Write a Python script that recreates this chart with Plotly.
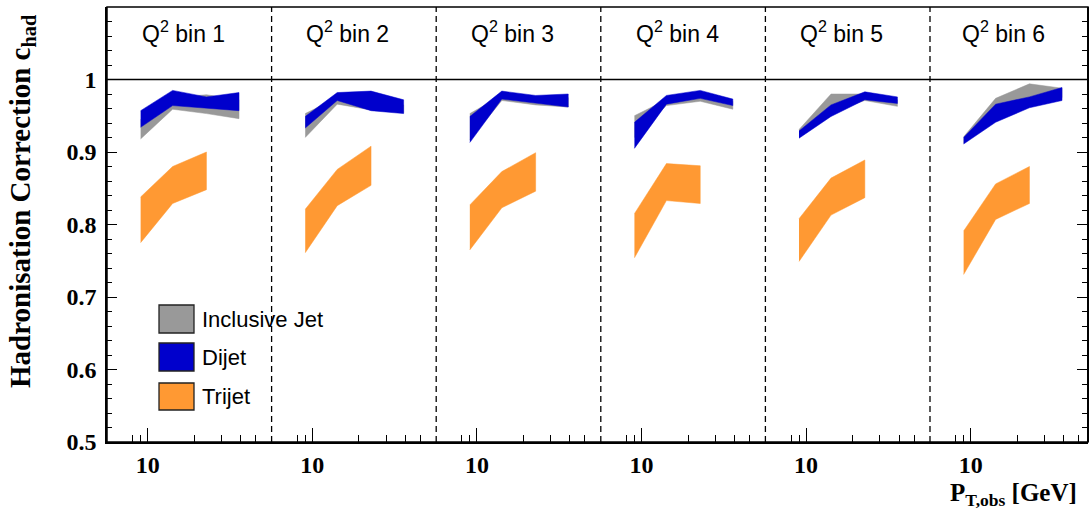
import plotly.graph_objects as go

# ---------------- data ----------------
pt_points = [9.0, 14.5, 24.0, 39.0]          # P_T,obs bin centres [GeV]
pt_points_trijet = [9.0, 14.5, 24.0]
panel_labels = ["Q<sup>2</sup> bin 1", "Q<sup>2</sup> bin 2", "Q<sup>2</sup> bin 3",
                "Q<sup>2</sup> bin 4", "Q<sup>2</sup> bin 5", "Q<sup>2</sup> bin 6"]

incl_lo = [[0.918, 0.959, 0.953, 0.946],
           [0.920, 0.966, 0.958, 0.954],
           [0.917, 0.971, 0.965, 0.962],
           [0.920, 0.964, 0.970, 0.959],
           [0.920, 0.955, 0.971, 0.963],
           [0.912, 0.945, 0.965, 0.975]]
incl_hi = [[0.945, 0.975, 0.979, 0.972],
           [0.953, 0.975, 0.975, 0.965],
           [0.953, 0.978, 0.975, 0.975],
           [0.950, 0.972, 0.978, 0.970],
           [0.931, 0.980, 0.980, 0.972],
           [0.921, 0.974, 0.994, 0.988]]

dijet_lo = [[0.934, 0.964, 0.960, 0.957],
            [0.933, 0.971, 0.957, 0.953],
            [0.913, 0.973, 0.967, 0.962],
            [0.905, 0.966, 0.974, 0.964],
            [0.919, 0.949, 0.972, 0.967],
            [0.911, 0.941, 0.961, 0.971]]
dijet_hi = [[0.957, 0.985, 0.976, 0.982],
            [0.949, 0.982, 0.984, 0.972],
            [0.949, 0.984, 0.978, 0.980],
            [0.941, 0.978, 0.985, 0.973],
            [0.929, 0.965, 0.983, 0.976],
            [0.920, 0.966, 0.976, 0.989]]

trijet_lo = [[0.775, 0.829, 0.848],
             [0.761, 0.826, 0.854],
             [0.765, 0.823, 0.846],
             [0.754, 0.833, 0.829],
             [0.749, 0.813, 0.837],
             [0.731, 0.807, 0.829]]
trijet_hi = [[0.838, 0.880, 0.900],
             [0.821, 0.876, 0.908],
             [0.827, 0.873, 0.899],
             [0.815, 0.884, 0.881],
             [0.808, 0.864, 0.889],
             [0.791, 0.856, 0.880]]

y_tickvals = [0.5, 0.6, 0.7, 0.8, 0.9, 1.0, 1.1]
y_ticktext = ["0.5", "0.6", "0.7", "0.8", "0.9", "1", "1.1"]

# ---------------- style ----------------
C_GRAY = "#999999"
C_BLUE = "#0000CC"
C_ORANGE = "#FF9933"
SERIF = "Liberation Serif, Times New Roman, serif"
SANS = "Liberation Sans, Arial, sans-serif"

W, H = 1091, 517
ML, MR, MT, MB = 107, 3, 7, 75
PW = W - ML - MR
PH = H - MT - MB
panel_w = 164.6
px_per_decade = 154.5
left_log = 1 - 40.7 / px_per_decade

starts = [ML + panel_w * i for i in range(6)]
ends = [ML + panel_w * (i + 1) for i in range(5)] + [ML + PW]

fig = go.Figure()

series = [
    ("Inclusive Jet", C_GRAY, pt_points, incl_lo, incl_hi),
    ("Dijet", C_BLUE, pt_points, dijet_lo, dijet_hi),
    ("Trijet", C_ORANGE, pt_points_trijet, trijet_lo, trijet_hi),
]

for i in range(6):
    sfx = "" if i == 0 else str(i + 1)
    for name, col, xs, lo, hi in series:
        fig.add_trace(go.Scatter(
            x=list(xs) + list(xs)[::-1],
            y=list(hi[i]) + list(lo[i])[::-1],
            fill="toself", fillcolor=col, mode="lines",
            line=dict(width=0.5, color=col),
            xaxis="x" + sfx, yaxis="y",
            showlegend=False, hoverinfo="skip", name=name))

    d0 = (starts[i] - ML) / PW
    d1 = (ends[i] - ML) / PW
    rng = [left_log, left_log + (ends[i] - starts[i]) / px_per_decade]
    fig.update_layout(**{
        "xaxis" + sfx: dict(
            type="log", range=rng, domain=[d0, d1], anchor="y",
            showgrid=False, zeroline=False,
            showline=True, linecolor="black", linewidth=1.5,
            tickmode="array", tickvals=[10], ticktext=["10"],
            ticks="inside", ticklen=14, tickwidth=1.3, tickcolor="black",
            ticklabelstandoff=0,
            tickfont=dict(family=SERIF, size=24, color="black", weight="bold"),
            minor=dict(tickmode="array", tickvals=[8, 9, 20, 30, 40, 50],
                       ticks="inside", ticklen=7, tickwidth=1.3, tickcolor="black",
                       showgrid=False),
        )
    })

fig.update_layout(
    width=W, height=H,
    margin=dict(l=ML, r=MR, t=MT, b=MB),
    plot_bgcolor="white", paper_bgcolor="white",
    showlegend=False,
    yaxis=dict(
        range=[0.5, 1.1], domain=[0, 1], anchor="x",
        showgrid=False, zeroline=False,
        showline=True, linecolor="black", linewidth=1.5,
        tickmode="array", tickvals=y_tickvals, ticktext=y_ticktext,
        ticks="inside", ticklen=10, tickwidth=1.3, tickcolor="black",
        ticklabelstandoff=4,
        tickfont=dict(family=SERIF, size=24, color="black", weight="bold"),
        minor=dict(dtick=0.02, tick0=0.5, ticks="inside", ticklen=5,
                   tickwidth=1.3, tickcolor="black", showgrid=False),
    ),
    yaxis2=dict(
        range=[0.5, 1.1], overlaying="y", side="right", anchor="free", position=1.0,
        showgrid=False, zeroline=False, showticklabels=False,
        showline=True, linecolor="black", linewidth=1.5,
        tickmode="array", tickvals=y_tickvals,
        ticks="inside", ticklen=10, tickwidth=1.3, tickcolor="black",
        minor=dict(dtick=0.02, tick0=0.5, ticks="inside", ticklen=5,
                   tickwidth=1.3, tickcolor="black", showgrid=False),
    ),
)

# invisible trace to activate the right-hand frame axis
fig.add_trace(go.Scatter(x=[10], y=[0.4], xaxis="x6", yaxis="y2", mode="markers",
                         marker=dict(opacity=0), showlegend=False, hoverinfo="skip"))

shapes = []
shapes.append(dict(type="rect", xref="paper", yref="paper", x0=0, x1=1, y0=0, y1=1,
                   line=dict(color="black", width=1.5), fillcolor="rgba(0,0,0,0)"))
shapes.append(dict(type="line", xref="paper", yref="y", x0=0, x1=1, y0=1.0, y1=1.0,
                   line=dict(color="black", width=1.5)))
for i in range(1, 6):
    xp = (starts[i] - ML) / PW
    shapes.append(dict(type="line", xref="paper", yref="paper", x0=xp, x1=xp, y0=0, y1=1,
                       line=dict(color="black", width=1.3, dash="6px,4px")))

annotations = []
for i in range(6):
    cx = ((starts[i] + ends[i]) / 2 - 6 - ML) / PW
    annotations.append(dict(xref="paper", yref="paper", x=cx, y=(H - MB - 32) / PH,
                            text=panel_labels[i], showarrow=False,
                            xanchor="center", yanchor="middle",
                            font=dict(family=SANS, size=23, color="black")))

# legend (drawn manually)
leg_rows = [("Inclusive Jet", C_GRAY, 305, 333), ("Dijet", C_BLUE, 343, 371),
            ("Trijet", C_ORANGE, 383, 410)]
for name, col, ytop, ybot in leg_rows:
    shapes.append(dict(type="rect", xref="paper", yref="paper",
                       x0=(159 - ML) / PW, x1=(194 - ML) / PW,
                       y0=(H - MB - ybot) / PH, y1=(H - MB - ytop) / PH,
                       fillcolor=col, line=dict(color="#222222", width=1.3)))
    annotations.append(dict(xref="paper", yref="paper", x=(200 - ML) / PW,
                            y=(H - MB - (ytop + ybot) / 2) / PH,
                            text=name, showarrow=False, xanchor="left", yanchor="middle",
                            font=dict(family=SANS, size=22, color="black")))

annotations.append(dict(xref="paper", yref="paper", x=(22 - ML) / PW,
                        y=(H - MB - 201) / PH, textangle=-90,
                        text="<b>Hadronisation Correction c<sub>had</sub></b>",
                        showarrow=False, xanchor="center", yanchor="middle",
                        font=dict(family=SERIF, size=29, color="black")))
annotations.append(dict(xref="paper", yref="paper", x=(1079 - ML) / PW,
                        y=(H - MB - 494) / PH,
                        text="<b>P<sub>T,obs</sub> [GeV]</b>",
                        showarrow=False, xanchor="right", yanchor="middle",
                        font=dict(family=SERIF, size=25, color="black")))

fig.update_layout(shapes=shapes, annotations=annotations)

fig.write_html("out.html", config={"displayModeBar": False},
               post_script="document.body.style.margin='0px';")
